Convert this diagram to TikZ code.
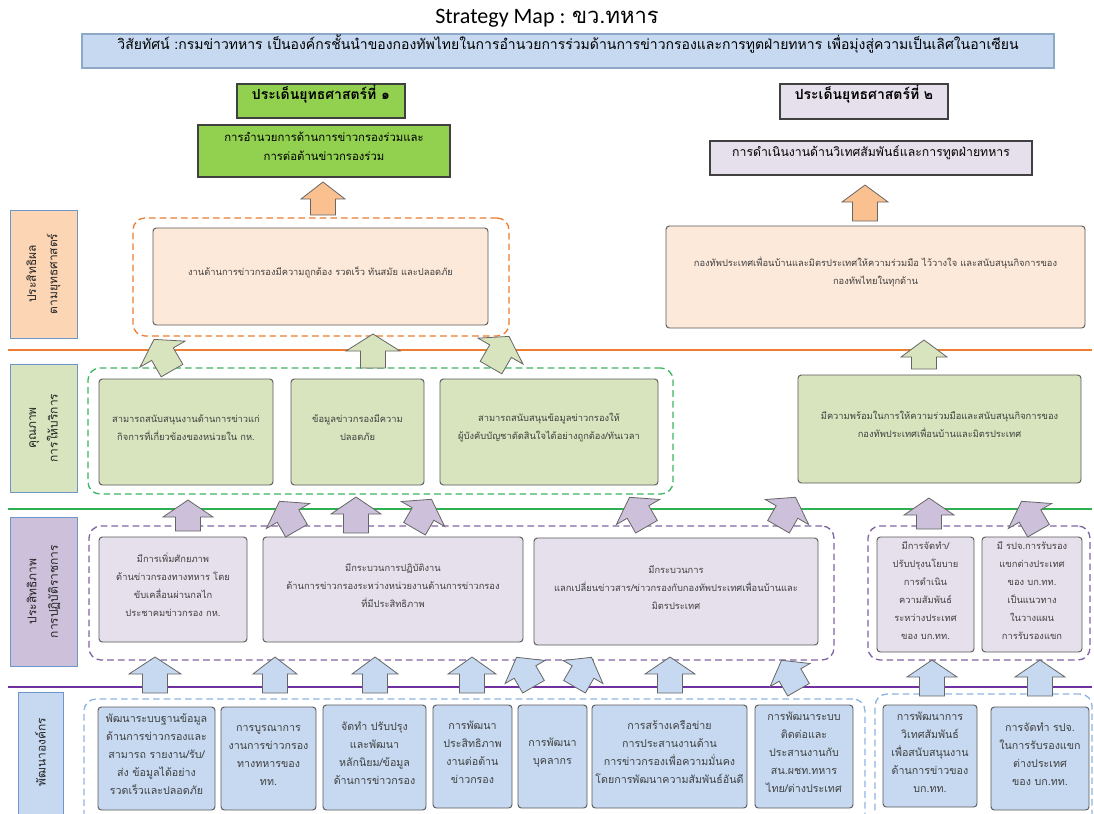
\documentclass[tikz,border=0pt]{standalone}
\usepackage{fontspec}
\usetikzlibrary{fit}
\newfontfamily\thai[Script=Thai]{Loma}
\newfontfamily\carl{Carlito}
\definecolor{visfill}{HTML}{C6D9F1}
\definecolor{visdraw}{HTML}{8EA9C8}
\definecolor{sgreen}{HTML}{92D050}
\definecolor{lav}{HTML}{E6E0EC}
\definecolor{peacharrow}{HTML}{FAC090}
\definecolor{peachbox}{HTML}{FDE9D9}
\definecolor{peachlab}{HTML}{FCD5B5}
\definecolor{orangedash}{HTML}{ED7D31}
\definecolor{greenbox}{HTML}{D7E4BD}
\definecolor{greendash}{HTML}{3DB460}
\definecolor{greenline}{HTML}{2EB050}
\definecolor{purplearrow}{HTML}{CCC0DA}
\definecolor{purpledash}{HTML}{8064A2}
\definecolor{purpleline}{HTML}{7030A0}
\definecolor{bluebox}{HTML}{C6D9F1}
\definecolor{bluedash}{HTML}{8DB3E2}
\definecolor{labdraw}{HTML}{6F96C8}
\definecolor{txt}{HTML}{404040}
\newcommand\blockarr[6]{%
  \begin{scope}[shift={(#1,#2)}, rotate=#3]
  \draw[arrline, fill=#5] (-12.5,#4/2) -- (-12.5,-#4/2+17) -- (-#6/2,-#4/2+17) -- (0,-#4/2)
     -- (#6/2,-#4/2+17) -- (12.5,-#4/2+17) -- (12.5,#4/2) -- cycle;
  \end{scope}}
\begin{document}
\begin{tikzpicture}[x=0.75pt,y=-0.75pt,
  arrline/.style={draw=black!60, line width=0.6pt, line join=miter},
  box/.style={draw=black!65, rounded corners=2.5pt, inner sep=0pt, align=center, text=txt,
     line width=0.7pt, font=\thai\fontsize{7}{13.5}\selectfont},
  bigbox/.style={box, font=\thai\fontsize{8}{13.5}\selectfont},
  headbox/.style={draw=black!75, inner sep=0pt, align=center, text=black, line width=0.8pt,
     font=\thai\fontsize{8.5}{14}\selectfont},
  labbox/.style={draw=labdraw, inner sep=0pt, line width=0.7pt},
  labtxt/.style={rotate=90, align=center, text=black!85, font=\thai\fontsize{9}{16}\selectfont},
  grp/.style={dashed, dash pattern=on 5pt off 3pt, rounded corners=9pt, inner sep=0pt, line width=1pt},
  sep/.style={line width=1.2pt}]
\useasboundingbox (0,0) rectangle (1094,813);
\clip (0,0) rectangle (1094,813);

% title and vision
\node (title) at (547,18) {\fontsize{16.5}{19}\selectfont\carl Strategy Map : \thai ขว.ทหาร};
\node[fill=visfill, draw=visdraw, line width=0.8pt, inner sep=0pt, fit={(82,34) (1054,68)},
  font=\thai\fontsize{10.5}{12}\selectfont, text=black] (vision)
  {วิสัยทัศน์ :กรมข่าวทหาร เป็นองค์กรชั้นนำของกองทัพไทยในการอำนวยการร่วมด้านการข่าวกรองและการทูตฝ่ายทหาร เพื่อมุ่งสู่ความเป็นเลิศในอาเซียน};

% strategic issues
\node[headbox, fill=sgreen, fit={(237,84) (405,118)}, font=\thai\bfseries\fontsize{10.5}{12}\selectfont] (st1) {ประเด็นยุทธศาสตร์ที่ ๑};
\node[headbox, fill=sgreen, fit={(198,125) (450,177)}] (st1box) {การอำนวยการด้านการข่าวกรองร่วมและ\\การต่อต้านข่าวกรองร่วม};
\node[headbox, fill=lav, fit={(780,84) (948,119)}, font=\thai\bfseries\fontsize{10.5}{12}\selectfont] (st2) {ประเด็นยุทธศาสตร์ที่ ๒};
\node[headbox, fill=lav, fit={(710,141) (1032,175)}, font=\thai\fontsize{9.2}{14}\selectfont] (st2box) {การดำเนินงานด้านวิเทศสัมพันธ์และการทูตฝ่ายทหาร};

% separator lines
\draw[sep, draw=orangedash] (8,350) -- (1092,350);
\draw[sep, draw=greenline] (8,509) -- (1092,509);
\draw[sep, draw=purpleline] (8,687) -- (1092,687);

% perspective labels
\node[labbox, fill=peachlab, fit={(10,210) (77,338)}] (lab1) {};
\node[labtxt] at (lab1.center) {ประสิทธิผล\\ตามยุทธศาสตร์};
\node[labbox, fill=greenbox, fit={(10,364) (77,492)}] (lab2) {};
\node[labtxt] at (lab2.center) {คุณภาพ\\การให้บริการ};
\node[labbox, fill=purplearrow, fit={(10,517) (77,666)}] (lab3) {};
\node[labtxt] at (lab3.center) {ประสิทธิภาพ\\การปฏิบัติราชการ};
\node[labbox, fill=bluebox, fit={(18,692) (63,830)}] (lab4) {};
\node[labtxt] at (40.5,752) {พัฒนาองค์กร};

% groups
\node[grp, draw=orangedash, fit={(133,218) (509,336)}] (g1) {};
\node[grp, draw=greendash, fit={(88,368) (673,494)}] (g2) {};
\node[grp, draw=purpledash, fit={(89,526) (834,660)}] (g3) {};
\node[grp, draw=purpledash, fit={(868,526) (1090,660)}] (g4) {};
\node[grp, draw=bluedash, fit={(84,699) (865,840)}] (g5) {};
\node[grp, draw=bluedash, fit={(875,694) (1092,840)}] (g6) {};

% effectiveness
\node[box, fill=peachbox, fit={(153,228) (488,325)}] (e1) {งานด้านการข่าวกรองมีความถูกต้อง รวดเร็ว ทันสมัย และปลอดภัย};
\node[box, fill=peachbox, fit={(666,226) (1085,328)}] (e2) {กองทัพประเทศเพื่อนบ้านและมิตรประเทศให้ความร่วมมือ ไว้วางใจ และสนับสนุนกิจการของ\\กองทัพไทยในทุกด้าน};

% service quality
\node[box, fill=greenbox, fit={(99,379) (273,485)}] (s1) {สามารถสนับสนุนงานด้านการข่าวแก่\\กิจการที่เกี่ยวข้องของหน่วยใน กห.};
\node[box, fill=greenbox, fit={(291,379) (424,485)}] (s2) {ข้อมูลข่าวกรองมีความ\\ปลอดภัย};
\node[box, fill=greenbox, fit={(440,379) (658,485)}] (s3) {สามารถสนับสนุนข้อมูลข่าวกรองให้\\ผู้บังคับบัญชาตัดสินใจได้อย่างถูกต้อง/ทันเวลา};
\node[box, fill=greenbox, fit={(798,375) (1081,483)}] (s4) {มีความพร้อมในการให้ความร่วมมือและสนับสนุนกิจการของ\\กองทัพประเทศเพื่อนบ้านและมิตรประเทศ};

% operations
\node[box, fill=lav, fit={(99,537) (247,642)}] (o1) {มีการเพิ่มศักยภาพ\\ด้านข่าวกรองทางทหาร โดย\\ขับเคลื่อนผ่านกลไก\\ประชาคมข่าวกรอง กห.};
\node[box, fill=lav, fit={(263,537) (523,642)}] (o2) {มีกระบวนการปฏิบัติงาน\\ด้านการข่าวกรองระหว่างหน่วยงานด้านการข่าวกรอง\\ที่มีประสิทธิภาพ};
\node[box, fill=lav, fit={(534,538) (818,645)}] (o3) {มีกระบวนการ\\แลกเปลี่ยนข่าวสาร/ข่าวกรองกับกองทัพประเทศเพื่อนบ้านและ\\มิตรประเทศ};
\node[box, fill=lav, fit={(877,537) (974,652)}] (o4) {มีการจัดทำ/\\ปรับปรุงนโยบาย\\การดำเนิน\\ความสัมพันธ์\\ระหว่างประเทศ\\ของ บก.ทท.};
\node[box, fill=lav, fit={(982,537) (1082,652)}] (o5) {มี รปจ.การรับรอง\\แขกต่างประเทศ\\ของ บก.ทท.\\เป็นแนวทาง\\ในวางแผน\\การรับรองแขก};

% organisation development
\node[bigbox, fill=bluebox, fit={(98,707) (215,810)}] (d1) {พัฒนาระบบฐานข้อมูล\\ด้านการข่าวกรองและ\\สามารถ รายงาน/รับ/\\ส่ง ข้อมูลได้อย่าง\\รวดเร็วและปลอดภัย};
\node[bigbox, fill=bluebox, fit={(221,707) (316,810)}] (d2) {การบูรณาการ\\งานการข่าวกรอง\\ทางทหารของ\\ทท.};
\node[bigbox, fill=bluebox, fit={(323,705) (426,810)}] (d3) {จัดทำ ปรับปรุง\\และพัฒนา\\หลักนิยม/ข้อมูล\\ด้านการข่าวกรอง};
\node[bigbox, fill=bluebox, fit={(433,705) (512,808)}] (d4) {การพัฒนา\\ประสิทธิภาพ\\งานต่อต้าน\\ข่าวกรอง};
\node[bigbox, fill=bluebox, fit={(518,705) (587,808)}] (d5) {การพัฒนา\\บุคลากร};
\node[bigbox, fill=bluebox, fit={(592,705) (747,808)}] (d6) {การสร้างเครือข่าย\\การประสานงานด้าน\\การข่าวกรองเพื่อความมั่นคง\\โดยการพัฒนาความสัมพันธ์อันดี};
\node[bigbox, fill=bluebox, fit={(755,705) (853,808)}] (d7) {การพัฒนาระบบ\\ติดต่อและ\\ประสานงานกับ\\สน.ผชท.ทหาร\\ไทย/ต่างประเทศ};
\node[bigbox, fill=bluebox, fit={(883,705) (977,807)}] (d8) {การพัฒนาการ\\วิเทศสัมพันธ์\\เพื่อสนับสนุนงาน\\ด้านการข่าวของ\\บก.ทท.};
\node[bigbox, fill=bluebox, fit={(991,707) (1089,810)}] (d9) {การจัดทำ รปจ.\\ในการรับรองแขก\\ต่างประเทศ\\ของ บก.ทท.};

% block arrows: orange
\blockarr{323}{198.5}{0}{33}{peacharrow}{44}
\blockarr{865}{203}{0}{36}{peacharrow}{46}
% green
\blockarr{163}{355}{30}{36}{greenbox}{52}
\blockarr{373}{351}{0}{34}{greenbox}{54}
\blockarr{500}{352}{-30}{36}{greenbox}{52}
\blockarr{924}{354.5}{0}{29}{greenbox}{46}
% purple
\blockarr{188}{515.5}{0}{31}{purplearrow}{50}
\blockarr{288}{516}{30}{34}{purplearrow}{50}
\blockarr{356}{515}{0}{36}{purplearrow}{50}
\blockarr{423}{514}{-30}{34}{purplearrow}{50}
\blockarr{638}{512}{30}{34}{purplearrow}{50}
\blockarr{787}{512}{-30}{34}{purplearrow}{50}
\blockarr{929}{513.5}{0}{31}{purplearrow}{50}
\blockarr{1030}{516}{30}{34}{purplearrow}{50}
% blue
\blockarr{155}{675}{0}{36}{bluebox}{52}
\blockarr{275}{675}{0}{36}{bluebox}{44}
\blockarr{375}{675}{0}{36}{bluebox}{46}
\blockarr{472}{675}{0}{36}{bluebox}{48}
\blockarr{525}{672}{30}{34}{bluebox}{46}
\blockarr{583}{672}{-30}{34}{bluebox}{46}
\blockarr{670}{675}{0}{36}{bluebox}{50}
\blockarr{790}{675}{30}{34}{bluebox}{46}
\blockarr{932}{678}{0}{36}{bluebox}{50}
\blockarr{1040}{678}{0}{36}{bluebox}{50}
\end{tikzpicture}
\end{document}
